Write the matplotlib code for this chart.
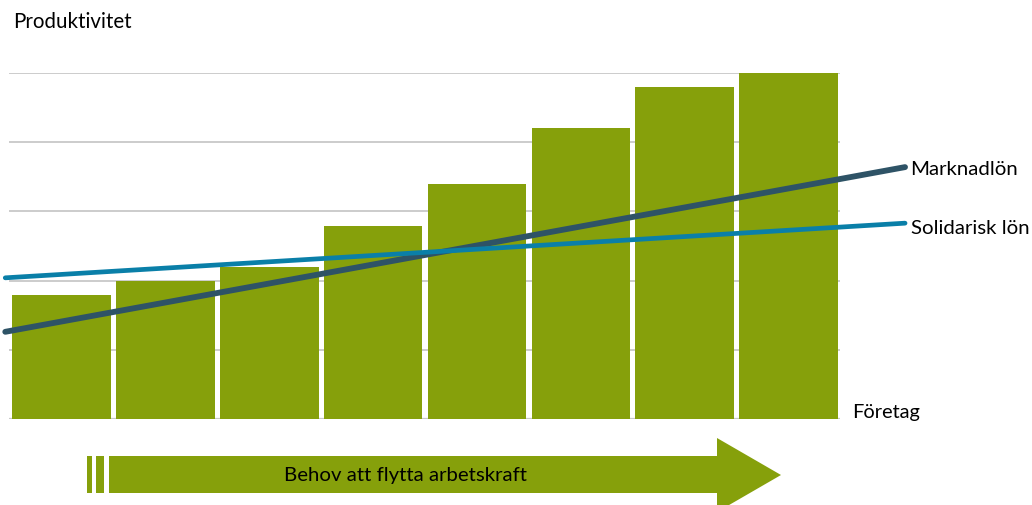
import numpy as np
import matplotlib.pyplot as plt
from matplotlib.patches import Polygon, Rectangle

plt.rcParams['font.family'] = ['Lato', 'DejaVu Sans']

# productivity per company (bars), in grid units
foretag = np.arange(8)
produktivitet = [1.79, 1.99, 2.2, 2.79, 3.4, 4.2, 4.8, 5.0]

# wage lines, start and end value
lon_x = [-0.54, 8.12]
marknadslon = [1.26, 3.64]
solidarisk_lon = [2.04, 2.83]

green = '#86A00B'
dark = '#2E5366'
blue = '#0A7FA8'

W, H = 1032, 506
fig = plt.figure(figsize=(W / 100, H / 100), dpi=100)
ax = fig.add_axes([9 / W, (H - 420) / H, (840 - 9) / W, (420 - 74) / H])

ax.set_xlim(-0.504, 7.494)
ax.set_ylim(0, 5)
for y in range(1, 6):
    ax.axhline(y, color='#C8C8C8', lw=1.3, zorder=0)
ax.axhline(0, color='#C8C8C8', lw=1.6, zorder=0)

ax.bar(foretag, produktivitet, width=0.95, color=green, zorder=2)

ax.plot(lon_x, marknadslon, color=dark, lw=4.2, solid_capstyle='round',
        clip_on=False, zorder=3)
ax.plot(lon_x, solidarisk_lon, color=blue, lw=3.4, solid_capstyle='round',
        clip_on=False, zorder=3)

for s in ax.spines.values():
    s.set_visible(False)
ax.set_xticks([])
ax.set_yticks([])

ax.annotate('Marknadlön', (lon_x[1], marknadslon[1]), xytext=(4, -1),
            textcoords='offset points', va='center', fontsize=14.7,
            annotation_clip=False)
ax.annotate('Solidarisk lön', (lon_x[1], solidarisk_lon[1]), xytext=(4, -3),
            textcoords='offset points', va='center', fontsize=14.7,
            annotation_clip=False)

fig.text(13 / W, 1 - 22 / H, 'Produktivitet', fontsize=14.8, va='center')
fig.text(852 / W, 1 - 413 / H, 'Företag', fontsize=14.4, va='center')

# arrow below the chart, drawn in pixel space
def px(x, y):
    return (x / W, 1 - y / H)

body = [px(109, 457), px(717, 457), px(717, 439), px(781, 476),
        px(717, 513), px(717, 494), px(109, 494)]
fig.patches.append(Polygon(body, closed=True, transform=fig.transFigure,
                           facecolor=green, edgecolor='none'))
for x0, x1 in [(87, 92), (96, 104)]:
    fig.patches.append(Rectangle(px(x0, 494), (x1 - x0) / W, 37 / H,
                                 transform=fig.transFigure,
                                 facecolor=green, edgecolor='none'))
fig.text(406 / W, 1 - 476 / H, 'Behov att flytta arbetskraft', fontsize=14.7,
         ha='center', va='center')

fig.savefig('out.png', dpi=100)
